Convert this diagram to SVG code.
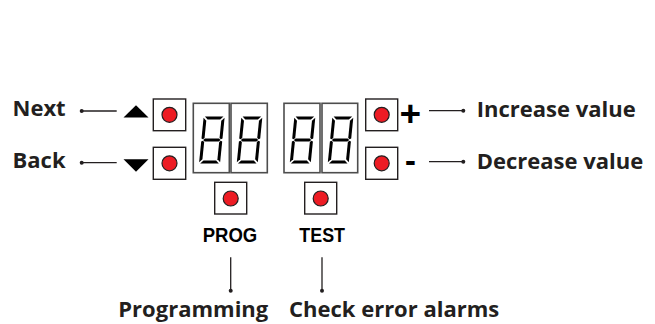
<svg xmlns="http://www.w3.org/2000/svg" width="655" height="324" viewBox="0 0 655 324">
<style>
.lbl{font-family:"Open Sans","Liberation Sans",sans-serif;font-weight:700;font-size:22px;fill:#231f20}
.key{font-family:"Liberation Sans",Arial,sans-serif;font-weight:700;font-size:20px;fill:#000}
.sym{font-family:"Open Sans","Liberation Sans",sans-serif;font-weight:700;fill:#000}
.box{fill:#fff;stroke:#231f20;stroke-width:1.4}
.disp{fill:#fff;stroke:#4d4d4d;stroke-width:1.6}
.led{fill:#ed1c24;stroke:#231f20;stroke-width:1.2}
.ln{stroke:#231f20;stroke-width:1.3;fill:none}
.dot{fill:#231f20}
.seg{fill:#000}
</style>
<defs>
<g id="d8" class="seg">
<polygon points="1.2,0 19.8,0 16.8,3 4.2,3"/>
<polygon points="4.2,44 16.8,44 19.8,47 1.2,47"/>
<polygon points="1.8,23.5 3.5,22 17.5,22 19.2,23.5 17.5,25 3.5,25"/>
<polygon points="0,1.2 3,4.2 3,21.6 1.5,22.8 0,22"/>
<polygon points="21,1.2 21,22 19.5,22.8 18,21.6 18,4.2"/>
<polygon points="0,25 1.5,24.2 3,25.4 3,42.8 0,45.8"/>
<polygon points="21,25 21,45.8 18,42.8 18,25.4 19.5,24.2"/>
</g>
</defs>

<g id="connectors">
<line class="ln" x1="81.7" y1="111" x2="116.7" y2="111"/><circle class="dot" cx="81.7" cy="111" r="2"/>
<line class="ln" x1="81.7" y1="162.7" x2="116.7" y2="162.7"/><circle class="dot" cx="81.7" cy="162.7" r="2"/>
<line class="ln" x1="429" y1="110.7" x2="463.3" y2="110.7"/><circle class="dot" cx="463.3" cy="110.7" r="2"/>
<line class="ln" x1="429" y1="161.7" x2="463.3" y2="161.7"/><circle class="dot" cx="463.3" cy="161.7" r="2"/>
<line class="ln" x1="230.7" y1="257.3" x2="230.7" y2="290.7"/><circle class="dot" cx="230.7" cy="290.7" r="2"/>
<line class="ln" x1="322" y1="257.3" x2="322" y2="290.7"/><circle class="dot" cx="322" cy="290.7" r="2"/>
</g>

<g id="next">
<text class="lbl" x="12.5" y="116">Next</text>
<polygon points="136,105.3 148.5,117.5 123.5,117.5" fill="#000"/>
<rect class="box" x="153.3" y="99" width="32.4" height="31.7"/>
<circle class="led" cx="169.5" cy="114.8" r="7.5"/>
</g>

<g id="back">
<text class="lbl" x="12.5" y="168.3">Back</text>
<polygon points="123.5,159.3 148.5,159.3 136,171.7" fill="#000"/>
<rect class="box" x="153.3" y="147.3" width="32.4" height="32"/>
<circle class="led" cx="169.5" cy="163.3" r="7.5"/>
</g>

<g id="display-left">
<rect class="disp" x="193.3" y="103.3" width="36" height="69.4"/>
<rect class="disp" x="231" y="103.3" width="36.3" height="69.4"/>
<use href="#d8" transform="translate(203.7,116.5) skewX(-5.7)"/>
<use href="#d8" transform="translate(241.4,116.5) skewX(-5.7)"/>
</g>

<g id="display-right">
<rect class="disp" x="284" y="103.3" width="36" height="69.4"/>
<rect class="disp" x="322" y="103.3" width="35.7" height="69.4"/>
<use href="#d8" transform="translate(294.4,116.5) skewX(-5.7)"/>
<use href="#d8" transform="translate(332.4,116.5) skewX(-5.7)"/>
</g>

<g id="increase">
<rect class="box" x="365.7" y="99" width="32" height="31.7"/>
<circle class="led" cx="381.7" cy="114.8" r="7.5"/>
<text class="sym" x="410.4" y="126.5" font-size="38" text-anchor="middle">+</text>
<text class="lbl" x="476.7" y="116.7">Increase value</text>
</g>

<g id="decrease">
<rect class="box" x="365.7" y="147.3" width="32" height="32"/>
<circle class="led" cx="381.7" cy="163.3" r="7.5"/>
<text class="sym" x="410.4" y="172" font-size="32" text-anchor="middle">-</text>
<text class="lbl" x="476.7" y="169.3">Decrease value</text>
</g>

<g id="prog">
<rect class="box" x="214.7" y="182.3" width="32" height="31.7"/>
<circle class="led" cx="230.7" cy="198.5" r="7.5"/>
<text class="key" x="230" y="241.7" text-anchor="middle" textLength="54.6" lengthAdjust="spacingAndGlyphs">PROG</text>
<text class="lbl" x="118.3" y="317">Programming</text>
</g>

<g id="test">
<rect class="box" x="304.7" y="182.3" width="32" height="31.7"/>
<circle class="led" cx="320.7" cy="198.5" r="7.5"/>
<text class="key" x="322.2" y="241.7" text-anchor="middle" textLength="45.7" lengthAdjust="spacingAndGlyphs">TEST</text>
<text class="lbl" x="289" y="317">Check error alarms</text>
</g>
</svg>
